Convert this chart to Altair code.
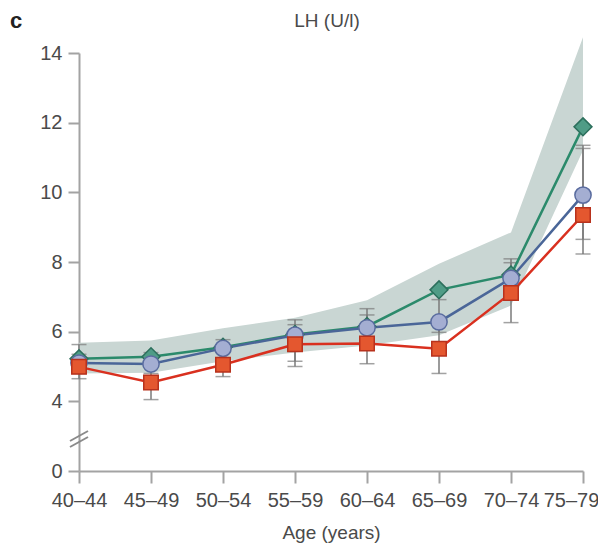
import altair as alt
import pandas as pd

ages = ["40–44", "45–49", "50–54", "55–59", "60–64", "65–69", "70–74", "75–79"]

green = [5.22, 5.28, 5.55, 5.92, 6.15, 7.20, 7.63, 11.88]
blue = [5.10, 5.07, 5.52, 5.90, 6.11, 6.28, 7.53, 9.92]
red = [4.99, 4.54, 5.05, 5.64, 5.66, 5.51, 7.11, 9.35]

band_lower = [4.80, 4.82, 5.15, 5.40, 5.60, 5.90, 6.75, 11.20]
band_upper = [5.68, 5.75, 6.10, 6.40, 6.90, 7.95, 8.85, 14.45]

blue_lo = [4.80, 4.80, 5.20, 5.15, 5.60, 5.98, 7.06, 8.65]
blue_hi = [5.63, 5.40, 5.77, 6.34, 6.66, 6.92, 7.98, 11.26]
red_lo = [4.65, 4.05, 4.71, 5.00, 5.08, 4.80, 6.26, 8.23]
red_hi = [5.35, 5.00, 5.40, 6.20, 6.48, 6.23, 8.09, 11.35]

y_ticks = [2, 4, 6, 8, 10, 12, 14]

series_names = ["green", "blue", "red"]
line_colors = ["#2b8a6b", "#4a6698", "#d9301f"]
fill_colors = ["#4f9c86", "#a4aed2", "#e4572f"]
stroke_colors = ["#2c6f5c", "#5a6c9f", "#b8321d"]
shapes = ["diamond", "circle", "square"]
sizes = [320, 210, 210]

rows = []
for name, vals in zip(series_names, [green, blue, red]):
    for a, v in zip(ages, vals):
        rows.append({"age": a, "series": name, "value": v})
df = pd.DataFrame(rows)

band_df = pd.DataFrame({"age": ages, "lower": band_lower, "upper": band_upper})

err_rows = []
for name, lo, hi in [("blue", blue_lo, blue_hi), ("red", red_lo, red_hi)]:
    for a, l, h in zip(ages, lo, hi):
        err_rows.append({"age": a, "series": name, "lo": l, "hi": h})
err_df = pd.DataFrame(err_rows)

FONT = "Liberation Sans"
TXT = "#4a4a4a"
AX = "#a3a3a3"

last_label = ages[-1]

x_enc = alt.X(
    "age:O",
    sort=ages,
    scale=alt.Scale(type="point", domain=ages, padding=0),
    axis=alt.Axis(
        title="Age (years)", labelAngle=0, labelFontSize=20, labelColor=TXT,
        labelFont=FONT, labelPadding=7, tickSize=12, tickColor=AX, tickWidth=2,
        domainColor=AX, domainWidth=2, titleFontSize=19, titleFont=FONT,
        titleColor=TXT, titleFontWeight="normal", titlePadding=13,
        labelOffset={"condition": {"test": f"datum.value === '{last_label}'", "value": -12}, "value": 0},
    ),
)
y_scale = alt.Scale(domain=[2, 14], nice=False, zero=False)
y_axis = alt.Axis(
    title=None, values=y_ticks, labelExpr="datum.value == 2 ? '0' : datum.label",
    labelFontSize=20, labelColor=TXT, labelFont=FONT, labelPadding=6,
    tickSize=11, tickColor=AX, tickWidth=2, domainColor=AX, domainWidth=2, grid=False,
)

band = alt.Chart(band_df).mark_area(color="#c9d6d3", opacity=1).encode(
    x=x_enc,
    y=alt.Y("lower:Q", scale=y_scale, axis=y_axis),
    y2="upper:Q",
)

err_rule = alt.Chart(err_df).mark_rule(color="#7a7a7a", strokeWidth=1.5).encode(
    x=alt.X("age:O", sort=ages), y=alt.Y("lo:Q", scale=y_scale), y2="hi:Q"
)
err_lo = alt.Chart(err_df).mark_tick(color="#7a7a7a", thickness=1.5, size=15, orient="horizontal").encode(
    x=alt.X("age:O", sort=ages), y=alt.Y("lo:Q", scale=y_scale)
)
err_hi = alt.Chart(err_df).mark_tick(color="#7a7a7a", thickness=1.5, size=15, orient="horizontal").encode(
    x=alt.X("age:O", sort=ages), y=alt.Y("hi:Q", scale=y_scale)
)

lines = []
for name, col in zip(series_names, line_colors):
    lines.append(
        alt.Chart(df).transform_filter(alt.datum.series == name)
        .mark_line(color=col, strokeWidth=2.5)
        .encode(x=alt.X("age:O", sort=ages), y=alt.Y("value:Q", scale=y_scale))
    )

points = alt.Chart(df).mark_point(filled=True, opacity=1, strokeWidth=1.5).encode(
    x=alt.X("age:O", sort=ages),
    y=alt.Y("value:Q", scale=y_scale),
    shape=alt.Shape("series:N", scale=alt.Scale(domain=series_names, range=shapes), legend=None),
    fill=alt.Fill("series:N", scale=alt.Scale(domain=series_names, range=fill_colors), legend=None),
    stroke=alt.Stroke("series:N", scale=alt.Scale(domain=series_names, range=stroke_colors), legend=None),
    size=alt.Size("series:N", scale=alt.Scale(domain=series_names, range=sizes), legend=None),
)

one = pd.DataFrame({"k": [0]})
brk1 = alt.Chart(one).mark_rule(color="#8a8a8a", strokeWidth=2).encode(
    x=alt.value(-9), x2=alt.value(9), y=alt.value(394), y2=alt.value(384)
)
brk2 = alt.Chart(one).mark_rule(color="#8a8a8a", strokeWidth=2).encode(
    x=alt.value(-9), x2=alt.value(9), y=alt.value(388), y2=alt.value(378)
)
title = alt.Chart(one).mark_text(
    text="LH (U/l)", font=FONT, fontSize=19, color=TXT, align="center", baseline="alphabetic"
).encode(x=alt.value(248), y=alt.value(-26))
letter = alt.Chart(one).mark_text(
    text="c", font=FONT, fontSize=22, fontWeight="bold", color="#222222", align="left", baseline="alphabetic"
).encode(x=alt.value(-69), y=alt.value(-25))

chart = alt.layer(band, err_rule, err_lo, err_hi, *lines, points, brk1, brk2, title, letter).properties(
    width=504,
    height=418,
    autosize=alt.AutoSizeParams(type="none"),
    padding={"left": 71, "top": 45, "right": 15, "bottom": 77},
).configure_view(stroke=None)

chart.save("out.html", embed_options={"renderer": "svg", "actions": False})
